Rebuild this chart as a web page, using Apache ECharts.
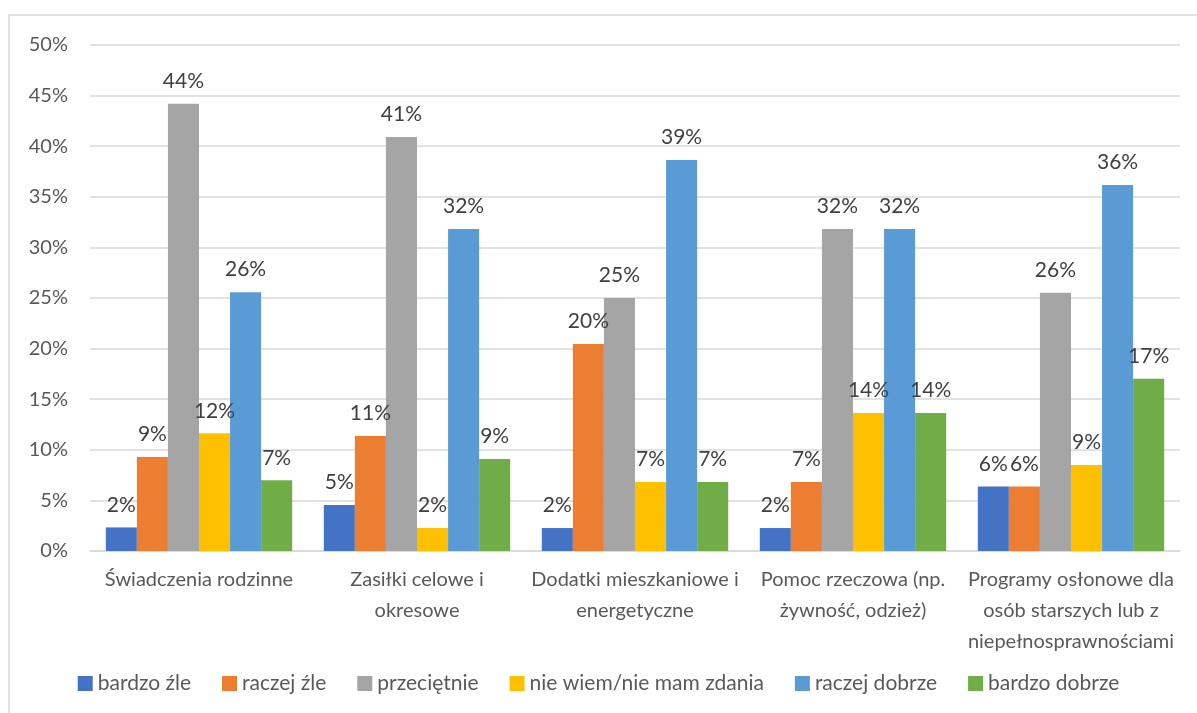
<!DOCTYPE html>
<html>
<head>
<meta charset="utf-8">
<script src="https://cdn.jsdelivr.net/npm/echarts@6/dist/echarts.min.js"></script>
<style>
  html, body { margin: 0; padding: 0; background: #fff; }
  #chart { width: 1197px; height: 713px; }
</style>
</head>
<body>
<div id="chart"></div>
<script>
const categories = [
    "Świadczenia rodzinne",
    "Zasiłki celowe i\nokresowe",
    "Dodatki mieszkaniowe i\nenergetyczne",
    "Pomoc rzeczowa (np.\nżywność, odzież)",
    "Programy osłonowe dla\nosób starszych lub z\nniepełnosprawnościami"
];
const seriesNames = ["bardzo źle", "raczej źle", "przeciętnie", "nie wiem/nie mam zdania", "raczej dobrze", "bardzo dobrze"];
const colors = ["#4472c4", "#ed7d31", "#a5a5a5", "#ffc000", "#5b9bd5", "#70ad47"];

// wartości w %
const bardzoZle = [2.33, 4.55, 2.27, 2.27, 6.38];
const raczejZle = [9.30, 11.36, 20.45, 6.82, 6.38];
const przecietnie = [44.19, 40.91, 25.00, 31.82, 25.53];
const nieWiem = [11.63, 2.27, 6.82, 13.64, 8.51];
const raczejDobrze = [25.58, 31.82, 38.64, 31.82, 36.17];
const bardzoDobrze = [6.98, 9.09, 6.82, 13.64, 17.02];
const yTicks = [0, 5, 10, 15, 20, 25, 30, 35, 40, 45, 50];

const values = [bardzoZle, raczejZle, przecietnie, nieWiem, raczejDobrze, bardzoDobrze];
const font = "Lato, 'Open Sans', sans-serif";

const chart = echarts.init(document.getElementById("chart"));
const option = {
    animation: false,
    textStyle: { fontFamily: font },
    graphic: [{
        type: "rect",
        shape: { x: 9, y: 15, width: 1200, height: 710 },
        style: { fill: "none", stroke: "#d9d9d9", lineWidth: 1.5 }
    }],
    grid: { left: 90, right: 17, top: 45, bottom: 162, containLabel: false },
    legend: {
        data: seriesNames,
        bottom: 14,
        left: "center",
        itemWidth: 15,
        itemHeight: 15,
        itemGap: 31,
        icon: "rect",
        textStyle: { fontSize: 21, color: "#595959", fontFamily: font }
    },
    xAxis: {
        type: "category",
        data: categories,
        axisLine: { lineStyle: { color: "#d9d9d9", width: 1.5 } },
        axisTick: { show: false },
        axisLabel: { fontSize: 20, color: "#595959", lineHeight: 31, margin: 13, interval: 0, fontFamily: font }
    },
    yAxis: {
        type: "value",
        min: yTicks[0],
        max: yTicks[yTicks.length - 1],
        interval: 5,
        axisLine: { show: false },
        axisTick: { show: false },
        splitLine: { lineStyle: { color: "#d9d9d9", width: 1.5 } },
        axisLabel: { fontSize: 20, color: "#595959", margin: 22, formatter: v => v + "%", fontFamily: font }
    },
    series: seriesNames.map((name, i) => ({
        name: name,
        type: "bar",
        data: values[i],
        barGap: "0%",
        barCategoryGap: "14.5%",
        itemStyle: { color: colors[i] },
        label: {
            show: true,
            position: "top",
            distance: 12,
            fontSize: 21,
            color: "#404040",
            fontFamily: font,
            formatter: p => Math.round(p.value) + "%"
        }
    }))
};
chart.setOption(option);
window.addEventListener("resize", () => chart.resize());
</script>
</body>
</html>
